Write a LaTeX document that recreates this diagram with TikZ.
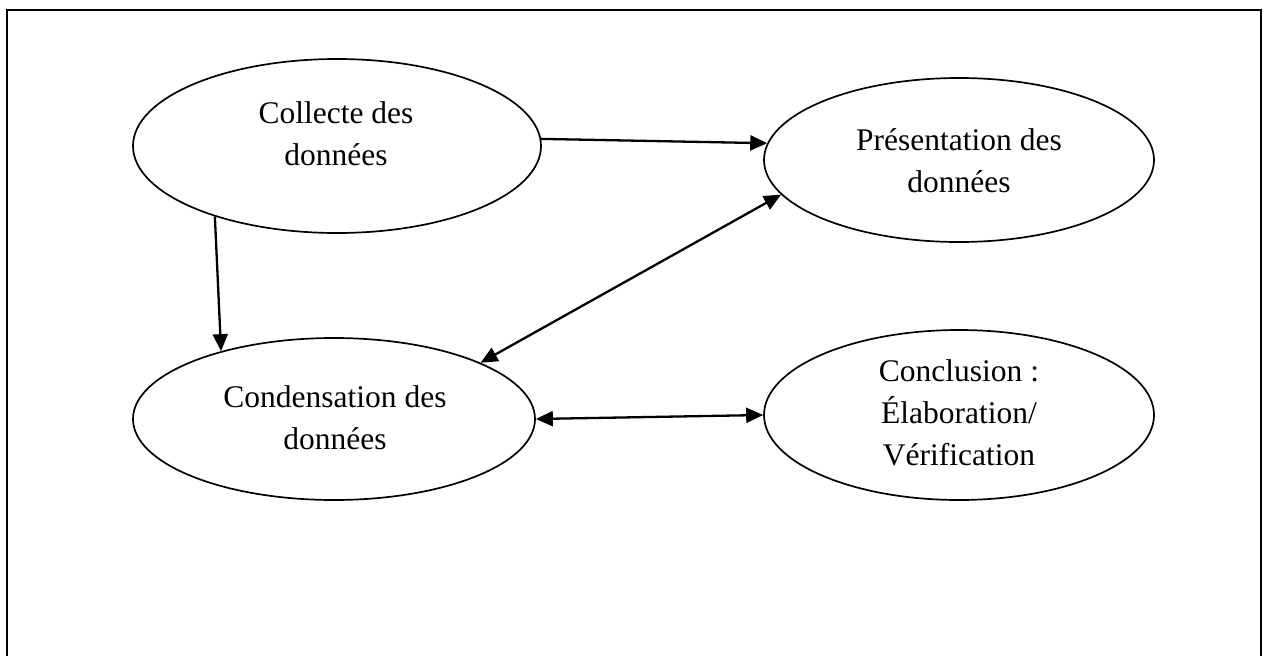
\documentclass[tikz,border=0pt]{standalone}
\usepackage{fontspec}
\setmainfont{Liberation Serif}
\usetikzlibrary{arrows.meta,shapes.geometric}
\begin{document}
\begin{tikzpicture}[x=1pt,y=-1pt,
  bubble/.style={draw,ellipse,line width=1.7pt,inner sep=0pt},
  ovaltext/.style={align=center,inner sep=0pt,font=\fontsize{31.5}{42}\selectfont},
  link/.style={line width=2.3pt,-{Triangle[length=17pt,width=15pt]}},
  twoway/.style={line width=2.3pt,{Triangle[length=17pt,width=15pt]}-{Triangle[length=17pt,width=15pt]}}]

\useasboundingbox (0,0) rectangle (1263,656);

% open frame (no bottom edge)
\draw[line width=2pt] (6.5,656) -- (6.5,10) -- (1260.5,10) -- (1260.5,656);

% the four stages
\node[bubble,minimum width=408pt,minimum height=174pt] (coll) at (337,146) {};
\node[bubble,minimum width=390pt,minimum height=164pt] (pres) at (959,160) {};
\node[bubble,minimum width=402pt,minimum height=162pt] (cond) at (334,419) {};
\node[bubble,minimum width=390pt,minimum height=170pt] (concl) at (959,415) {};

\node[ovaltext] (colltxt) at (336,134) {Collecte des\\données};
\node[ovaltext] (prestxt) at (959,161) {Présentation des\\données};
\node[ovaltext] (condtxt) at (335,418) {Condensation des\\données};
\node[ovaltext] (concltxt) at (959,413) {Conclusion :\\Élaboration/\\Vérification};

% flows between stages
\draw[link] (coll.2.5) -- (pres.175.4);
\draw[link] (coll.210) -- (cond.149.7);
\draw[twoway] (cond.21.7) -- (pres.191.9);
\draw[twoway] (cond.0.3) -- (concl.180.9);
\end{tikzpicture}
\end{document}
